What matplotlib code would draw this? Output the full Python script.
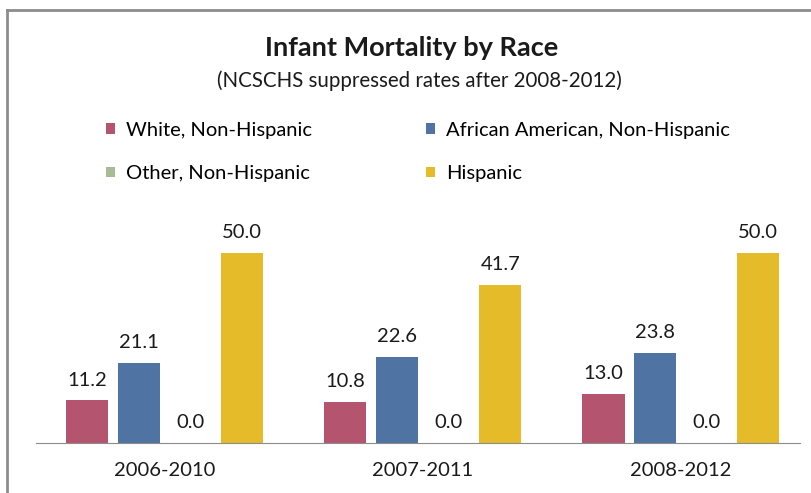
import matplotlib.pyplot as plt
import numpy as np

periods = ['2006-2010', '2007-2011', '2008-2012']
groups = ['White, Non-Hispanic', 'African American, Non-Hispanic',
          'Other, Non-Hispanic', 'Hispanic']
white = [11.2, 10.8, 13.0]
african_american = [21.1, 22.6, 23.8]
other = [0.0, 0.0, 0.0]
hispanic = [50.0, 41.7, 50.0]
colors = ['#B5546F', '#4F74A4', '#A8BB92', '#E5BB29']

plt.rcParams['font.family'] = ['Lato', 'DejaVu Sans']

fig = plt.figure(figsize=(8.11, 4.93), dpi=100)
W, H = 811, 493

# chart frame (left and top edges of the box)
fig.add_artist(plt.Line2D([7 / W, 7 / W], [0, 1 - 10 / H], color='#8C8C8C', lw=2))
fig.add_artist(plt.Line2D([7 / W, 1], [1 - 10 / H, 1 - 10 / H], color='#8C8C8C', lw=2))

fig.text(412 / W, 1 - 48 / H, 'Infant Mortality by Race', ha='center', va='center',
         fontsize=19.5, fontweight='bold', color='#1a1a1a')
fig.text(419 / W, 1 - 81 / H, '(NCSCHS suppressed rates after 2008-2012)', ha='center',
         va='center', fontsize=14.8, color='#1a1a1a')

ax = fig.add_axes([35.5 / W, 50 / H, 774.5 / W, 228 / H])
x = np.arange(len(periods))
step = 0.2
width = 0.163
series = [white, african_american, other, hispanic]
for k, (vals, col, name) in enumerate(zip(series, colors, groups)):
    pos = x + (k - 1.5) * step
    ax.bar(pos, vals, width=width, color=col, label=name)
    for p, v in zip(pos, vals):
        ax.text(p, v + 3.1, f'{v:.1f}', ha='center', va='bottom', fontsize=14.5,
                color='#1a1a1a')

ax.set_xlim(-0.5, 2.5)
ax.set_ylim(0, 60)
ax.set_yticks([])
ax.set_xticks(x)
ax.set_xticklabels(periods, fontsize=14.5, color='#1a1a1a')
ax.tick_params(axis='x', length=0, pad=14)
for s in ['top', 'right', 'left']:
    ax.spines[s].set_visible(False)
ax.spines['bottom'].set_color('#8C8C8C')
ax.spines['bottom'].set_bounds(-0.5, 2.46)
ax.patch.set_alpha(0)

# legend fills column-wise, so reorder to read row by row
handles, labels = ax.get_legend_handles_labels()
order = [0, 2, 1, 3]
fig.legend([handles[i] for i in order], [labels[i] for i in order], ncol=2,
           loc='upper left', bbox_to_anchor=(106 / W, 1 - 122 / H),
           frameon=False, fontsize=14.5, handlelength=0.45, handleheight=0.45,
           handletextpad=0.55, columnspacing=5.65, labelspacing=1.3, borderaxespad=0,
           borderpad=0)

fig.savefig('out.png', dpi=100)
